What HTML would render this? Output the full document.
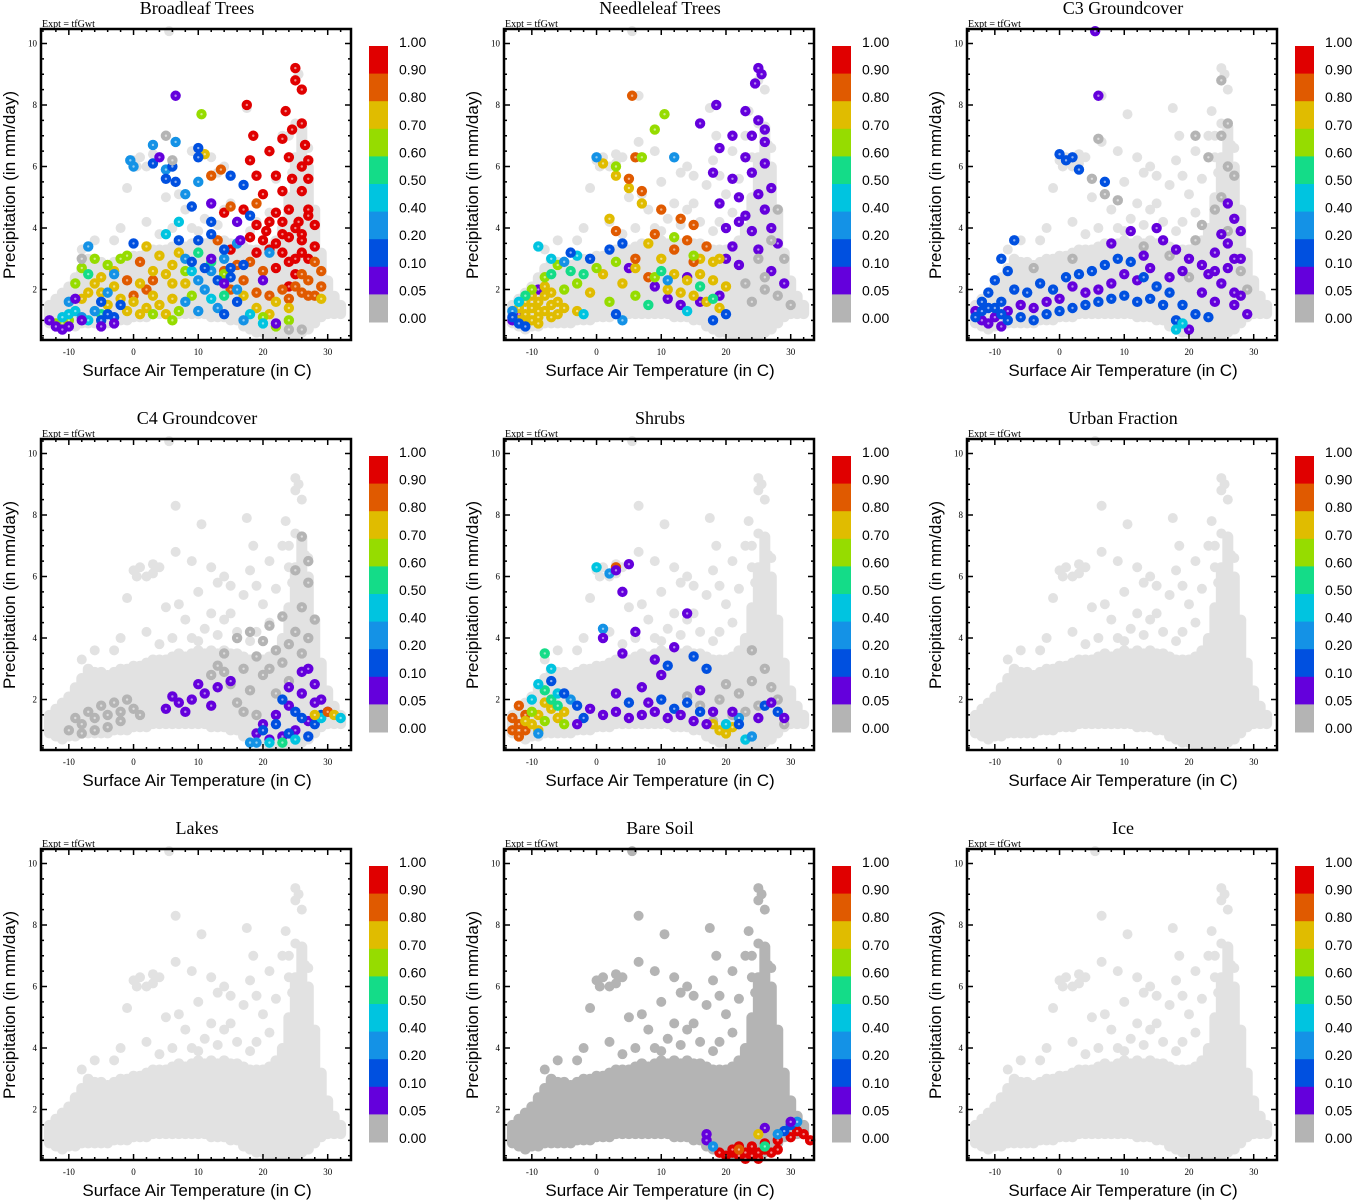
<!DOCTYPE html>
<html><head><meta charset="utf-8">
<style>
html,body{margin:0;padding:0;background:#fff;}
svg{display:block;}
.t{font-family:"Liberation Serif",serif;}
.s{font-family:"Liberation Sans",sans-serif;}
</style></head>
<body>
<svg id="fig" width="1353" height="1200" viewBox="0 0 1353 1200" xmlns="http://www.w3.org/2000/svg"></svg>
<script>
// ---- data ----
const panelTitles = ["Broadleaf Trees","Needleleaf Trees","C3 Groundcover","C4 Groundcover","Shrubs","Urban Fraction","Lakes","Bare Soil","Ice"];
const binColors = ["#b4b4b4","#6400dc","#0050e0","#1492e6","#00c4e0","#14dc88","#96dc00","#e0bc00","#e05a00","#e00000"];
const binLabels = ["1.00","0.90","0.80","0.70","0.60","0.50","0.40","0.20","0.10","0.05","0.00"];
const xTicks = [-10,0,10,20,30];
const yTicks = [2,4,6,8,10];
// background cloud: temperature columns with precip low/high
const cloudT  = [-13,-12,-11,-10,-9,-8,-7,-6,-5,-4,-3,-2,-1,0,1,2,3,4,5,6,7,8,9,10,11,12,13,14,15,16,17,18,19,20,21,22,23,24,25,26,27,28,29,30,31,32];
const cloudLo = [0.9,0.8,0.7,0.8,0.8,0.9,0.9,0.9,0.9,0.9,1.0,1.0,1.0,1.1,1.1,1.1,1.2,1.2,1.2,1.2,1.2,1.2,1.2,1.2,1.2,1.1,1.1,1.1,1.0,1.0,0.8,0.7,0.6,0.6,0.5,0.5,0.5,0.5,0.5,0.6,0.7,0.9,1.1,1.2,1.2,1.2];
const cloudHi = [1.5,1.7,1.9,2.1,2.4,2.7,3.0,2.9,2.9,2.8,2.9,3.0,3.0,3.1,3.1,3.2,3.3,3.3,3.3,3.4,3.5,3.4,3.5,3.6,3.5,3.6,3.5,3.6,3.5,3.5,3.4,3.3,3.3,3.3,3.4,3.6,4.0,5.0,6.3,7.3,6.0,4.6,3.2,2.3,1.8,1.5];
const cloudOut = [[0,6.2],[0.5,6.0],[-1,5.3],[5,5.0],[6.5,6.8],[6.5,8.3],[4,6.3],[3,6.1],[9,6.5],[10,5.5],[10.5,7.7],[12,6.3],[14,6.0],[15,5.7],[17,5.4],[17.5,7.9],[18.5,7.0],[18,6.2],[19,5.7],[21,6.5],[22,5.6],[23,7.0],[23.5,7.8],[24,7.0],[25,8.8],[25,9.2],[25.5,9.0],[26,8.5],[26.5,6.7],[7,5.1],[12,4.8],[20,5.1],[8,4.6],[2,4.2],[-2,4.0],[-6,3.6],[5.5,10.4],[27,5.6],[3,6.4],[1,6.3],[2,6.0],[13,5.8],[15,4.8],[-3,3.6],[-8,3.3],[24,6.3],[25,7.4],[26,6.0],[27,6.6],[24.5,5.8],[26,4.8],[9,4.0],[11,4.3],[13,4.1],[16,4.2],[6,4.0],[4,3.8],[19,4.2],[21,4.5],[14,4.6],[10,3.9],[18,3.9]];
const cloudShade = ["#e2e2e2","#e2e2e2","#e2e2e2","#e2e2e2","#e2e2e2","#e2e2e2","#e2e2e2","#b4b4b4","#e2e2e2"];
// colored points per panel: [temperature, precip, bin]
const pts0 = [[25,9.2,9],[25,8.8,9],[26,8.5,9],[17.5,8.0,9],[23.5,7.8,9],[24.5,7.2,9],[26,7.4,9],[18.5,7.0,9],[23,6.9,9],[26.5,6.7,9],[21,6.5,9],[24,6.3,9],[18,6.2,9],[26,6.0,9],[27,6.2,9],[19,5.7,9],[22,5.7,9],[24.5,5.6,9],[27,5.6,9],[20,5.1,9],[23,5.2,9],[26,5.2,9],[14,4.5,9],[17,4.6,9],[22,4.5,9],[24,4.6,9],[27,4.6,9],[19,4.1,9],[21,4.2,9],[23,4.2,9],[25.5,4.2,9],[28,4.1,9],[18,3.7,9],[20,3.6,9],[22,3.5,9],[24,3.7,9],[26,3.6,9],[28,3.4,9],[15,3.3,9],[19,3.2,9],[21,3.3,9],[23,3.2,9],[25,3.0,9],[27,3.0,9],[22,2.7,9],[25,2.5,9],[24,2.1,9],[26,3.8,9],[27,4.4,9],[20.5,3.9,9],[25,4.0,9],[23,3.8,9],[26,3.2,9],[24,2.9,9],
[13.5,5.9,8],[12,5.7,8],[19,4.8,8],[15,4.7,8],[13,3.6,8],[16,2.8,8],[14,2.6,8],[17,2.3,8],[15,2.0,8],[19,1.9,8],[21,1.8,8],[23,2.0,8],[25,2.1,8],[27,2.3,8],[29,2.1,8],[28,1.8,8],[26,1.9,8],[24,1.7,8],[20,2.6,8],[18,2.9,8],[1,2.9,8],[3,2.3,8],[0,1.8,8],[2,2.0,8],[-1,2.3,8],[28,2.9,8],[29,2.6,8],[26,2.5,8],[27,1.8,8],
[11,6.4,7],[2,3.4,7],[-7,1.9,7],[-5,2.4,7],[-3,2.1,7],[-2,1.7,7],[-4,1.5,7],[0,1.6,7],[2,1.4,7],[4,1.5,7],[6,1.7,7],[5,2.5,7],[7,3.2,7],[6,2.8,7],[3,2.6,7],[8,2.2,7],[-6,2.2,7],[-1,1.3,7],[1,1.2,7],[5,1.2,7],[17,1.8,7],[19,1.4,7],[21,1.2,7],[22,1.6,7],[24,1.4,7],[29,1.7,7],[-8,1.7,7],[4,3.1,7],[-5,1.9,7],[1,2.2,7],[3,1.8,7],[6,2.2,7],[-3,2.6,7],
[10.5,7.7,6],[-8,2.7,6],[-6,3.0,6],[-4,2.8,6],[-2,3.0,6],[-1,3.1,6],[8,2.6,6],[9,1.8,6],[3,1.2,6],[7,1.3,6],[22,0.8,6],[24,1.0,6],[20,1.1,6],[14,2.5,6],[-9,2.2,6],[6,1.0,6],[-11,0.9,6],[-10,1.0,6],[-12,0.9,6],
[-5,1.2,5],[10,3.2,5],[12,2.9,5],[14,1.8,5],[-7,2.5,5],
[3,6.7,3],[6.5,6.8,3],[-0.5,6.2,3],[0,6.0,3],[5,5.9,3],[10,5.5,3],[8,5.1,3],[7,4.2,4],[5,3.8,4],[-7,3.4,3],[-10,1.6,3],[-9,1.3,4],[-8,1.1,3],[-7,1.0,4],[-6,1.3,3],[-10,1.2,4],[-11,1.1,4],[8,3.0,3],[9,2.6,4],[10,2.3,3],[11,2.0,3],[12,1.7,4],[13,1.4,3],[10,1.3,3],[12,2.6,3],[14,3.0,3],[16,2.0,3],[18,1.2,4],[20,0.9,4],[17,1.0,3],[8,1.6,3],[-4,1.9,3],[-3,2.5,3],[21,3.2,3],[16,3.5,3],
[10,6.6,2],[10,6.3,2],[3,6.1,2],[6,6.0,2],[5,5.6,2],[6.5,5.5,2],[15,5.7,2],[17,5.4,2],[9,4.7,2],[12,4.2,2],[12,3.8,2],[7,3.6,2],[10,3.6,2],[0,3.5,2],[-4,1.2,2],[-5,1.0,2],[-3,1.1,2],[-2,1.5,2],[-5,1.6,2],[9,2.9,2],[11,2.7,2],[13,2.3,2],[15,2.4,2],[16,1.6,2],[14,1.2,2],[17,2.8,2],[18,4.4,2],[14,3.3,2],[15,2.7,2],
[6.5,8.3,1],[4,6.3,1],[12,4.8,1],[16,4.2,1],[16.5,3.6,1],[-12,0.8,1],[-13,1.0,1],[-11,0.7,1],[-10,0.8,1],[-9,1.7,1],[-8,1.0,1],[-5,0.8,1],[-3,0.9,1],[22,0.9,1],[12,3.0,1],[14,2.2,1],[20,2.3,1],
[5,7.0,0],[-8,3.0,0],[6,6.2,0],[24,0.7,0],[26,0.7,0]];
const pts1 = [[25,9.2,1],[25.5,9.0,1],[24.5,8.7,1],[18.5,8.0,1],[23,7.8,1],[25,7.5,1],[26,7.2,1],[16,7.4,1],[21,7.0,1],[24,7.0,1],[26,6.8,1],[19,6.6,1],[23,6.3,1],[26,6.1,1],[18,5.8,1],[21,5.6,1],[24,5.8,1],[22,5.0,1],[25,5.1,1],[27,5.3,1],[19,4.8,1],[23,4.4,1],[26,4.6,1],[20,4.0,1],[24,3.9,1],[27,4.0,1],[21,3.4,1],[25,3.3,1],[28,3.5,1],[22,2.8,1],[27,2.6,1],[29,2.2,1],[14,2.4,1],[16,1.6,1],[19,1.8,1],[9,2.1,1],[11,1.7,1],[13,1.5,1],[-13,1.0,1],[-12,1.2,1],[-9,2.0,1],[5,2.7,1],[22,4.2,1],[20,3.0,1],
[25,3.0,0],[26,2.4,0],[28,1.8,0],[27,3.6,0],[29,3.0,0],[23,2.2,0],[24,1.6,0],[28,4.6,0],[30,1.5,0],[26,2.0,0],
[1,6.1,7],[3,5.7,7],[5,5.3,7],[7,4.8,7],[2,4.3,7],[8,3.5,7],[10,3.0,7],[12,2.5,7],[14,2.3,7],[16,2.5,7],[18,2.3,7],[15,1.8,7],[17,1.6,7],[19,1.4,7],[13,1.9,7],[11,2.0,7],[-3,1.3,7],[-1,1.9,7],[1,2.5,7],[4,2.2,7],[6,2.7,7],[16,3.0,7],[18,2.9,7],[20,2.1,7],[19,3.0,7],
[-12,1.0,7],[-11,1.2,7],[-10,1.4,7],[-9,1.6,7],[-8,1.8,7],[-7,1.5,7],[-10,1.0,7],[-9,1.1,7],[-8,1.3,7],[-7,1.1,7],[-6,1.2,7],[-11,1.6,7],[-10,1.8,7],[-12,1.4,7],[-6,1.6,7],[-5,1.4,7],[-8,2.1,7],[-9,1.3,7],[-7,1.9,7],[-11,0.9,7],[-9,0.9,7],
[5.5,8.3,8],[6,6.3,8],[5,5.6,8],[7,5.2,8],[10,4.6,8],[13,4.3,8],[15,4.1,8],[9,3.8,8],[6,3.0,8],[12,3.3,8],[17,3.4,8],[15,2.9,8],[3,3.9,8],[8,2.4,8],[14,3.6,8],
[9,7.2,6],[10.5,7.7,6],[3,6.0,6],[7,6.3,6],[-8,2.4,6],[-5,2.0,6],[-3,2.2,6],[0,2.7,6],[3,2.9,6],[9,2.4,6],[12,3.7,6],[15,3.1,6],[2,1.6,6],[6,1.8,6],[-6,2.8,6],[-10,2.0,6],
[-7,2.5,5],[-4,2.6,5],[-2,2.5,5],[10,2.6,5],[16,2.1,5],[18,1.7,5],[-11,1.8,5],[8,1.5,5],
[-9,3.4,4],[-7,3.0,4],[-5,2.9,3],[-3,3.1,4],[0,6.3,3],[12,6.3,3],[11,2.3,3],[14,1.3,4],[-12,1.6,4],[-13,1.3,3],[-2,1.2,4],[4,1.0,3],
[-4,3.2,2],[-1,3.0,2],[2,3.3,2],[4,3.5,2],[-12,0.9,2],[-11,0.8,2],[-13,1.1,2],[3,1.2,2],[20,1.2,2],[18,1.0,2]];
const pts2 = [[6,6.9,0],[5,5.6,0],[7,5.1,0],[9,4.9,0],[21,7.0,0],[23,6.3,0],[25,7.0,0],[26,6.0,0],[25,5.0,0],[24,4.6,0],[27,5.7,0],[22,4.1,0],[21,3.6,0],[26,3.9,0],[28,2.6,0],[29,2.0,0],[20,2.4,0],[17,3.1,0],[13,3.4,0],[2,3.0,0],[-4,2.7,0],[25,8.8,0],[26,7.4,0],
[5.5,10.4,1],[6,8.3,1],[15,4.0,1],[16,3.6,1],[11,3.9,1],[8,3.5,1],[13,3.1,1],[18,3.3,1],[20,3.0,1],[22,2.8,1],[24,3.2,1],[26,3.5,1],[27,4.3,1],[25,3.8,1],[23,2.5,1],[26,2.7,1],[28,1.8,1],[24,1.6,1],[27,1.5,1],[29,1.2,1],[25,2.2,1],[27,3.0,1],[28,3.9,1],[22,1.9,1],[19,2.6,1],[17,2.4,1],[14,2.7,1],[12,2.3,1],[10,2.5,1],[8,2.2,1],[6,2.0,1],[4,1.9,1],[2,2.1,1],[0,1.7,1],[-2,1.6,1],[-4,1.4,1],[-6,1.5,1],[-8,1.3,1],[-10,1.1,1],[-12,1.0,1],[-13,1.3,1],[-11,0.9,1],[-9,0.8,1],[20,0.7,1],[27,1.9,1],[26,4.8,1],[28,3.0,1],[24,2.6,1],
[0,6.4,2],[1,6.2,2],[2,6.3,2],[3,5.9,2],[7,5.5,2],[-7,3.6,2],[-9,3.0,2],[-8,2.6,2],[-10,2.3,2],[-11,1.9,2],[-12,1.6,2],[-13,1.1,2],[-10,1.4,2],[-9,1.6,2],[-7,2.0,2],[-5,1.9,2],[-3,2.2,2],[-1,2.0,2],[1,2.4,2],[3,2.5,2],[5,2.6,2],[7,2.8,2],[9,3.0,2],[11,2.9,2],[13,2.4,2],[15,2.1,2],[17,1.9,2],[19,1.5,2],[21,1.2,2],[23,1.1,2],[18,1.0,2],[-6,1.1,2],[-4,1.0,2],[-2,1.2,2],[0,1.3,2],[2,1.4,2],[4,1.5,2],[6,1.6,2],[8,1.7,2],[10,1.8,2],[12,1.6,2],[14,1.7,2],[16,1.5,2],[-12,1.3,2],[-11,1.4,2],[-8,1.0,2],[-9,1.2,2],
[19,0.9,4],[18,0.7,4]];
const pts3 = [[-10,1.0,0],[-8,1.2,0],[-6,1.4,0],[-4,1.5,0],[-2,1.6,0],[0,1.7,0],[-9,1.4,0],[-7,1.6,0],[-5,1.8,0],[-3,1.9,0],[-1,2.0,0],[-8,0.9,0],[-6,1.0,0],[1,1.5,0],[15,2.5,0],[17,3.0,0],[19,3.4,0],[14,3.5,0],[16,4.0,0],[12,2.8,0],[13,3.1,0],[20,2.8,0],[21,3.0,0],[23,3.2,0],[24,3.8,0],[25,4.2,0],[26,5.0,0],[27,5.8,0],[27,6.5,0],[26,7.3,0],[25,6.2,0],[28,4.6,0],[24,2.6,0],[22,2.2,0],[18,2.3,0],[19,1.5,0],[17,1.6,0],[16,1.9,0],[20,3.9,0],[21,4.4,0],[22,3.6,0],[23,4.7,0],[26,3.5,0],[27,4.0,0],[18,4.2,0],[14,2.9,0],[-4,1.1,0],[-2,1.3,0],
[5,1.7,1],[7,1.9,1],[9,2.0,1],[11,2.2,1],[13,2.4,1],[15,2.6,1],[12,1.8,1],[6,2.1,1],[8,1.6,1],[10,2.5,1],[19,0.9,1],[20,1.2,1],[22,1.5,1],[24,1.8,1],[26,2.2,1],[28,2.5,1],[27,1.3,1],[25,1.0,1],[23,0.8,1],[21,0.7,1],[28,1.9,1],[26,2.9,1],[27,3.0,1],[29,2.0,1],[30,1.6,1],[24,2.4,1],
[22,1.2,2],[24,0.9,2],[26,1.4,2],[28,1.2,2],[25,1.6,2],[27,0.8,2],[20,1.0,2],[29,1.5,2],[18,0.6,3],[23,2.0,2],
[21,0.6,4],[23,0.6,5],[25,0.7,4],[19,0.6,3],[29,1.4,4],
[30,1.6,8],[31,1.5,7],[28,1.5,7],[32,1.4,4]];
const pts4 = [[19,2.0,0],[20,2.5,0],[22,2.2,0],[24,2.6,0],[26,3.0,0],[27,2.4,0],[25,1.8,0],[28,2.0,0],[24,3.6,0],[21,1.5,0],[23,1.6,0],[16,1.8,0],[14,2.1,0],[18,1.3,0],[29,1.2,0],
[-13,1.0,8],[-12,1.2,8],[-13,1.4,8],[-12,0.8,8],[-11,1.5,8],[-12,1.8,8],[-11,1.0,8],[3,6.3,8],
[-10,1.2,7],[-9,1.5,7],[-8,1.9,7],[-7,1.7,7],[-6,1.4,7],[-9,1.0,7],[19,1.0,7],[20,0.9,7],[18,1.2,7],[21,1.1,7],[-11,1.3,7],[-5,1.6,7],
[-8,1.3,6],[-7,2.0,5],[-10,1.6,6],[-6,1.8,5],[-5,1.2,6],[-8,2.3,5],
[-9,2.5,4],[-7,3.0,4],[-8,3.5,5],[0,6.3,4],[2,6.1,3],[1,4.3,3],[-10,2.0,4],[-4,2.0,3],[20,1.2,4],[22,1.4,3],[-6,2.2,4],[-9,0.9,3],[23,0.7,4],[24,0.8,3],
[-7,2.6,2],[-5,2.2,2],[-3,1.8,2],[5,1.9,2],[11,3.1,2],[15,3.4,2],[17,3.0,2],[10,2.0,2],[12,1.7,2],[14,1.9,2],[16,1.6,2],[22,1.2,2],[26,1.8,2],[28,1.6,2],[-2,1.4,2],
[3,6.2,1],[5,6.4,1],[4,5.5,1],[1,4.0,1],[6,4.2,1],[4,3.5,1],[9,3.3,1],[14,4.8,1],[12,3.7,1],[3,2.2,1],[-1,1.7,1],[1,1.5,1],[3,1.6,1],[5,1.4,1],[7,1.5,1],[9,1.6,1],[11,1.4,1],[13,1.5,1],[15,1.3,1],[17,1.2,1],[18,1.6,1],[7,2.4,1],[27,1.9,1],[29,1.4,1],[25,1.4,1],[21,1.6,1],[-3,1.2,1],[8,1.9,1],[10,2.8,1],[16,2.3,1]];
const pts5 = [];
const pts6 = [];
const pts7 = [[19,0.6,9],[20,0.5,9],[21,0.6,9],[22,0.5,9],[23,0.6,9],[24,0.5,9],[25,0.6,9],[26,0.7,9],[27,0.6,9],[28,0.7,9],[22,0.8,9],[24,0.8,9],[26,0.9,9],[28,1.0,9],[30,1.1,9],[31,1.3,9],[32,1.2,9],[33,1.0,9],[23,0.4,9],[25,0.4,9],[21,0.7,9],
[17,1.0,1],[17,1.2,1],[18,0.8,3],[29,1.3,2],[30,1.5,2],[31,1.6,3],[30,1.6,1],[26,1.4,1],[28,1.2,3],[25,1.2,7],[22,0.7,8],[26,0.8,5]];
const pts8 = [];
const panelPts = [pts0,pts1,pts2,pts3,pts4,pts5,pts6,pts7,pts8];

// ---- drawing ----
const NS = "http://www.w3.org/2000/svg";
const svg = document.getElementById("fig");
function mk(tag, attrs, parent){ const e=document.createElementNS(NS,tag); for(const k in attrs) e.setAttribute(k,attrs[k]); (parent||svg).appendChild(e); return e; }
const PL=41, PR=351, PT=29, PB=340;
const X0=-14.3, X1=33.6, Y0=0.36, Y1=10.47;

for(let i=0;i<9;i++){
  const ox = (i%3)*463, oy = Math.floor(i/3)*410;
  const sx = t => ox + PL + (t-X0)/(X1-X0)*(PR-PL);
  const sy = p => oy + PB - (p-Y0)/(Y1-Y0)*(PB-PT);
  const g = mk("g",{});
  
  
  const title = mk("text",{x:ox+197,y:oy+14,"text-anchor":"middle","font-size":"18",class:"t"},g);
  title.textContent = panelTitles[i];
  
  
  const ex = mk("text",{x:ox+42,y:oy+27,"font-size":"10",class:"t"},g);
  ex.textContent = "Expt = tfGwt";
  
  
  // cloud
  const shade = cloudShade[i];
  const cg = mk("g",{},g);
  
  
  for(let k=0;k<cloudT.length;k++){
    const x=sx(cloudT[k]), y1=sy(cloudHi[k]), y0=sy(cloudLo[k]);
    const r = mk("rect",{x:x-5.5,y:y1-5,width:11,height:(y0-y1)+10,rx:5.5,fill:shade},cg);
    
    
  }
  for(const o of cloudOut){
    const c = mk("circle",{cx:sx(o[0]),cy:sy(o[1]),r:5,fill:shade},cg);
    
    
  }
  // colored points
  const pg = mk("g",{},g);
  
  
  for(const p of panelPts[i]){
    const cx=sx(p[0]), cy=sy(p[1]);
    const c = mk("circle",{cx:cx,cy:cy,r:5.2,fill:binColors[p[2]]},pg);
    
    
    mk("circle",{cx:cx,cy:cy,r:1.2,fill:"#fff","fill-opacity":"0.55"},pg);
  }
  // frame
  const fr = mk("rect",{x:ox+PL,y:oy+PT,width:PR-PL,height:PB-PT,fill:"none",stroke:"#000","stroke-width":"2.5"},g);
  
  
  // ticks
  let d="";
  for(let t=-14;t<=33;t+=2){ const x=sx(t); const L=(t%10===0)?6:3; d+=`M${x},${oy+PB}v${-L}M${x},${oy+PT}v${L}`; }
  for(let p=0.5;p<=10.4;p+=0.5){ const y=sy(p); const L=(Math.abs(p%2)<0.01)?6:3; d+=`M${ox+PL},${y}h${L}M${ox+PR},${y}h${-L}`; }
  mk("path",{d:d,stroke:"#000","stroke-width":"1.5",fill:"none"},g);
  for(const t of xTicks){
    const tx = mk("text",{x:sx(t),y:oy+PB+15,"text-anchor":"middle","font-size":"9",class:"t"},g);
    tx.textContent = String(t);
    
    
  }
  for(const p of yTicks){
    const ty = mk("text",{x:ox+PL-4,y:sy(p)+3,"text-anchor":"end","font-size":"9",class:"t"},g);
    ty.textContent = String(p);
    
    
  }
  const xt = mk("text",{x:ox+197,y:oy+376,"text-anchor":"middle","font-size":"17",class:"s"},g);
  xt.textContent = "Surface Air Temperature (in C)";
  
  
  const yt = mk("text",{x:0,y:0,"text-anchor":"middle","font-size":"17",class:"s",transform:`translate(${ox+15},${oy+185}) rotate(-90)`},g);
  yt.textContent = "Precipitation (in mm/day)";
  
  
  // colorbar
  const cb = mk("g",{},g);
  
  
  const bh = 27.6, bt = oy+46;
  for(let k=0;k<10;k++){
    const r = mk("rect",{x:ox+369,y:bt+k*bh,width:19,height:bh+0.5,fill:binColors[9-k]},cb);
    
    
  }
  for(let k=0;k<binLabels.length;k++){
    const tl = mk("text",{x:ox+399,y:oy+47+k*bh,"font-size":"14",class:"s"},cb);
    tl.textContent = binLabels[k];
    
    
  }
}
</script>
</body></html>
